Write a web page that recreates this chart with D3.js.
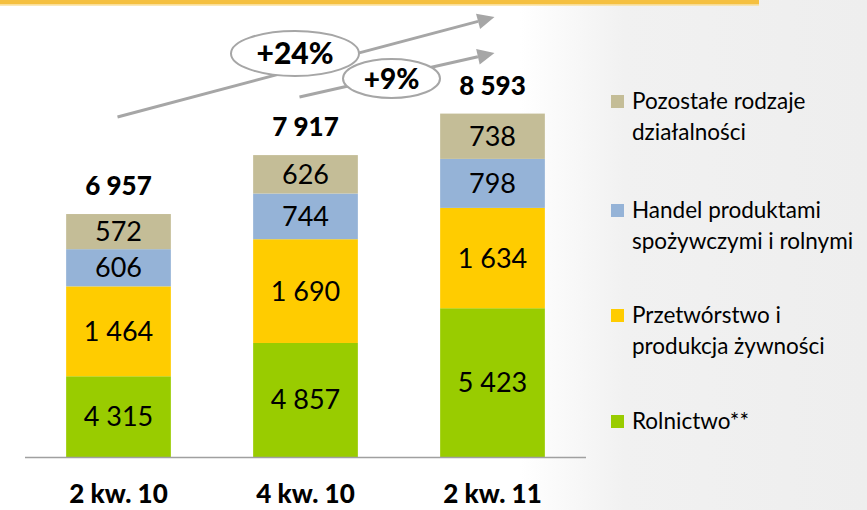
<!DOCTYPE html>
<html>
<head>
<meta charset="utf-8">
<script src="https://cdn.jsdelivr.net/npm/d3@7"></script>
<style>
  body { margin: 0; background: #fff; }
  text { font-family: Lato, "Open Sans", sans-serif; fill: #000; }
</style>
</head>
<body>
<script>
// data
var quarters = ["2 kw. 10", "4 kw. 10", "2 kw. 11"];
var seriesKeys = ["rolnictwo", "przetworstwo", "handel", "pozostale"];
var rolnictwo = [4315, 4857, 5423];
var przetworstwo = [1464, 1690, 1634];
var handel = [606, 744, 798];
var pozostale = [572, 626, 738];
var legendLabels = [
  ["Rolnictwo**"],
  ["Przetwórstwo i", "produkcja żywności"],
  ["Handel produktami", "spożywczymi i rolnymi"],
  ["Pozostałe rodzaje", "działalności"]
];
var colors = ["#99cc00", "#ffcc00", "#95b3d7", "#c4bd97"];

var width = 867, height = 510;

var svg = d3.select("body").append("svg")
    .attr("width", width)
    .attr("height", height);

// background: white on the left, fading to light grey on the right
var defs = svg.append("defs");
var grad = defs.append("linearGradient").attr("id", "bg")
    .attr("x1", 0).attr("x2", 1).attr("y1", 0).attr("y2", 0);
grad.append("stop").attr("offset", "0.6").attr("stop-color", "#ffffff");
grad.append("stop").attr("offset", "0.72").attr("stop-color", "#f1f1f1");
grad.append("stop").attr("offset", "1").attr("stop-color", "#eeeeee");
svg.append("rect").attr("width", width).attr("height", height).attr("fill", "url(#bg)");

// top yellow line
svg.append("rect").attr("x", 0).attr("y", 0).attr("width", 759).attr("height", 4.5).attr("fill", "#f5c040");
svg.append("rect").attr("x", 0).attr("y", 4.5).attr("width", 759).attr("height", 1.2).attr("fill", "#f9de94");

// table for the stack
var table = quarters.map(function(q, i) {
  return { q: q, rolnictwo: rolnictwo[i], przetworstwo: przetworstwo[i], handel: handel[i], pozostale: pozostale[i] };
});
var stacked = d3.stack().keys(seriesKeys)(table);
var totals = table.map(function(d) { return d3.sum(seriesKeys, function(k) { return d[k]; }); });

var x = d3.scaleBand()
    .domain(quarters)
    .range([25, 586])
    .paddingInner(0.44)
    .paddingOuter(0.22);

// value axis is cut at 3000 in the original
var y = d3.scaleLinear()
    .domain([3000, 9000])
    .range([457, 88.6])
    .clamp(true);

var fmt = d3.formatLocale({ decimal: ",", thousands: " ", grouping: [3], currency: ["", " zł"] }).format(",d");

var layers = svg.append("g").selectAll("g")
    .data(stacked)
    .enter().append("g")
    .attr("fill", function(d, i) { return colors[i]; });

layers.selectAll("rect")
    .data(function(d) { return d; })
    .enter().append("rect")
    .attr("x", function(d) { return x(d.data.q); })
    .attr("width", x.bandwidth())
    .attr("y", function(d) { return y(d[1]); })
    .attr("height", function(d) { return y(d[0]) - y(d[1]); });

layers.selectAll("text")
    .data(function(d) { return d; })
    .enter().append("text")
    .attr("x", function(d) { return x(d.data.q) + x.bandwidth() / 2; })
    .attr("y", function(d) { return (y(d[0]) + y(d[1])) / 2 + 9.5; })
    .attr("text-anchor", "middle")
    .style("font-size", "27px")
    .text(function(d) { return fmt(d[1] - d[0]); });

// totals
svg.append("g").selectAll("text")
    .data(quarters)
    .enter().append("text")
    .attr("x", function(d) { return x(d) + x.bandwidth() / 2; })
    .attr("y", function(d, i) { return y(totals[i]) - 19; })
    .attr("text-anchor", "middle")
    .style("font-size", "26px")
    .style("font-weight", "900")
    .text(function(d, i) { return fmt(totals[i]); });

// baseline
svg.append("line")
    .attr("x1", 25).attr("x2", 586)
    .attr("y1", 457.5).attr("y2", 457.5)
    .attr("stroke", "#a0a0a0").attr("stroke-width", 1.5);

// category labels
svg.append("g").selectAll("text")
    .data(quarters)
    .enter().append("text")
    .attr("x", function(d) { return x(d) + x.bandwidth() / 2; })
    .attr("y", 503)
    .attr("text-anchor", "middle")
    .style("font-size", "26px")
    .style("font-weight", "900")
    .text(function(d) { return d; });

// growth arrows
var pct = d3.format("+.0%");
var growth = [
  { label: pct(totals[2] / totals[0] - 1), x0: x(quarters[0]) + x.bandwidth() / 2 - 1, y0: 117, y1: 17, cx: 295, cy: 53.5, rx: 64, ry: 22.5, size: "30px" },
  { label: pct(totals[2] / totals[1] - 1), x0: x(quarters[1]) + x.bandwidth() / 2 - 6, y0: 97, y1: 53, cx: 391.5, cy: 78.5, rx: 48.5, ry: 19.5, size: "28px" }
];
var tipX = x(quarters[2]) + x.bandwidth() / 2 + 2;
var gray = "#a6a6a6";

growth.forEach(function(g) {
  var ang = Math.atan2(g.y1 - g.y0, tipX - g.x0);
  var len = 17, half = 8;
  var bx = tipX - len * Math.cos(ang), by = g.y1 - len * Math.sin(ang);
  svg.append("line")
      .attr("x1", g.x0).attr("y1", g.y0)
      .attr("x2", bx).attr("y2", by)
      .attr("stroke", gray).attr("stroke-width", 3);
  svg.append("path")
      .attr("d", "M" + tipX + "," + g.y1 +
                 "L" + (bx - half * Math.sin(ang)) + "," + (by + half * Math.cos(ang)) +
                 "L" + (bx + half * Math.sin(ang)) + "," + (by - half * Math.cos(ang)) + "Z")
      .attr("fill", gray);
});
growth.forEach(function(g) {
  svg.append("ellipse")
      .attr("cx", g.cx).attr("cy", g.cy)
      .attr("rx", g.rx).attr("ry", g.ry)
      .attr("fill", "#fff").attr("stroke", gray).attr("stroke-width", 2);
  svg.append("text")
      .attr("x", g.cx).attr("y", g.cy + 10)
      .attr("text-anchor", "middle")
      .style("font-size", g.size)
      .style("font-weight", "900")
      .text(g.label);
});

// legend, top to bottom: reversed stack order
var legendTops = [415, 309, 204, 95];
var legend = svg.append("g").selectAll("g")
    .data(legendLabels)
    .enter().append("g")
    .attr("transform", function(d, i) { return "translate(611," + legendTops[i] + ")"; });

legend.append("rect")
    .attr("width", 13).attr("height", 13)
    .attr("fill", function(d, i) { return colors[i]; });

legend.append("text")
    .style("font-size", "22.5px")
    .selectAll("tspan")
    .data(function(d) { return d; })
    .enter().append("tspan")
    .attr("x", 21)
    .attr("y", function(d, j) { return 14 + j * 31; })
    .text(function(d) { return d; });
</script>
</body>
</html>
